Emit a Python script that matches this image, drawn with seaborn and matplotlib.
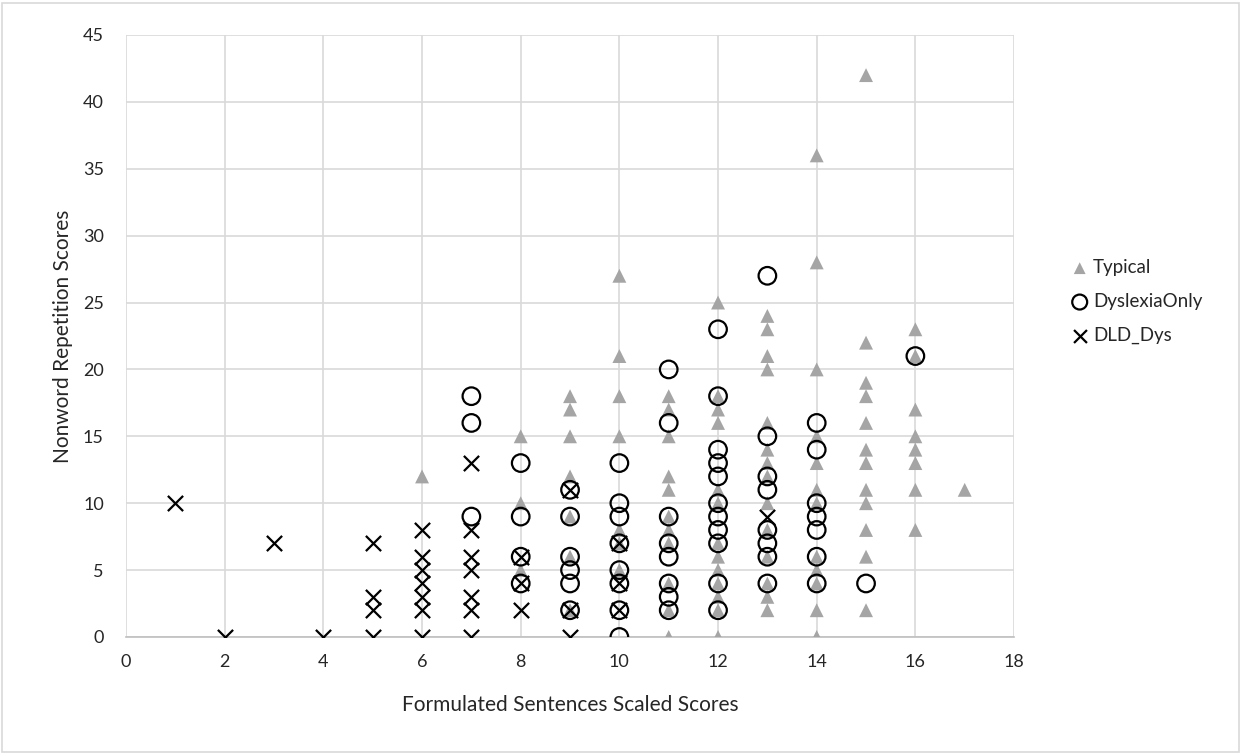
import pandas as pd
import seaborn as sns
import matplotlib.pyplot as plt
from matplotlib.patches import Rectangle

# Typical group: (formulated sentences, nonword repetition)
typical_x = [6,
             8, 8, 8,
             9, 9, 9, 9, 9, 9, 9,
             10, 10, 10, 10, 10, 10, 10,
             11, 11, 11, 11, 11, 11, 11, 11, 11, 11, 11,
             12, 12, 12, 12, 12, 12, 12, 12, 12, 12, 12, 12, 12,
             13, 13, 13, 13, 13, 13, 13, 13, 13, 13, 13, 13, 13, 13,
             14, 14, 14, 14, 14, 14, 14, 14, 14, 14, 14, 14,
             15, 15, 15, 15, 15, 15, 15, 15, 15, 15, 15, 15,
             16, 16, 16, 16, 16, 16, 16, 16,
             17]
typical_y = [12,
             15, 10, 5,
             18, 17, 15, 12, 9, 6, 2,
             27, 21, 18, 15, 8, 7, 5,
             18, 17, 15, 12, 11, 9, 8, 7, 4, 2, 0,
             25, 18, 17, 16, 11, 10, 7, 6, 5, 4, 3, 2, 0,
             24, 23, 21, 20, 16, 14, 13, 12, 10, 8, 6, 4, 3, 2,
             36, 28, 20, 15, 13, 11, 10, 6, 5, 4, 2, 0,
             42, 22, 19, 18, 16, 14, 13, 11, 10, 8, 6, 2,
             23, 21, 17, 15, 14, 13, 11, 8,
             11]

dys_x = [7, 7, 7,
         8, 8, 8, 8,
         9, 9, 9, 9, 9, 9,
         10, 10, 10, 10, 10, 10, 10, 10,
         11, 11, 11, 11, 11, 11, 11, 11,
         12, 12, 12, 12, 12, 12, 12, 12, 12, 12, 12,
         13, 13, 13, 13, 13, 13, 13, 13,
         14, 14, 14, 14, 14, 14, 14,
         15, 16]
dys_y = [18, 16, 9,
         13, 9, 6, 4,
         11, 9, 6, 5, 4, 2,
         13, 10, 9, 7, 5, 4, 2, 0,
         20, 16, 9, 7, 6, 4, 3, 2,
         23, 18, 14, 13, 12, 10, 9, 8, 7, 4, 2,
         27, 15, 12, 11, 8, 7, 6, 4,
         16, 14, 10, 9, 8, 6, 4,
         4, 21]

dld_x = [1, 2, 3, 4,
         5, 5, 5, 5,
         6, 6, 6, 6, 6, 6, 6,
         7, 7, 7, 7, 7, 7, 7,
         8, 8, 8,
         9, 9, 9,
         10, 10, 10,
         13]
dld_y = [10, 0, 7, 0,
         7, 3, 2, 0,
         8, 6, 5, 4, 3, 2, 0,
         13, 8, 6, 5, 3, 2, 0,
         6, 4, 2,
         11, 2, 0,
         7, 4, 2,
         9]

typical = pd.DataFrame({'fs': typical_x, 'nwr': typical_y})
dyslexia = pd.DataFrame({'fs': dys_x, 'nwr': dys_y})
dld = pd.DataFrame({'fs': dld_x, 'nwr': dld_y})

sns.set_style('white')
plt.rcParams['font.family'] = ['Lato', 'DejaVu Sans']

fig = plt.figure(figsize=(12.43, 7.54), dpi=100)
ax = fig.add_axes([0.1014, 0.1552, 0.7144, 0.7984])

sns.scatterplot(data=typical, x='fs', y='nwr', ax=ax, marker='^', s=100,
                color='#a5a5a5', edgecolor='none', label='Typical', zorder=3)
sns.scatterplot(data=dyslexia, x='fs', y='nwr', ax=ax, marker='o', s=160,
                facecolor='none', edgecolor='black', linewidth=1.6,
                label='DyslexiaOnly', zorder=4)
sns.scatterplot(data=dld, x='fs', y='nwr', ax=ax, marker='x', s=120,
                color='black', linewidth=1.6, label='DLD_Dys', zorder=5)

ax.set_xlim(0, 18)
ax.set_ylim(0, 45)
ax.set_xticks(range(0, 19, 2))
ax.set_yticks(range(0, 46, 5))
ax.grid(True, color='#d9d9d9', linewidth=1.2)
ax.set_axisbelow(True)
for side in ['top', 'right', 'left']:
    ax.spines[side].set_visible(False)
ax.spines['bottom'].set_color('#bfbfbf')
ax.spines['bottom'].set_linewidth(1.2)
ax.tick_params(axis='x', length=0, labelsize=13, colors='#262626', pad=12)
ax.tick_params(axis='y', length=0, labelsize=13, colors='#262626', pad=16)

ax.set_xlabel('Formulated Sentences Scaled Scores', fontsize=15, color='#262626', labelpad=18)
ax.set_ylabel('Nonword Repetition Scores', fontsize=15, color='#262626', labelpad=7)

ax.legend_.remove()
handles, labels = ax.get_legend_handles_labels()
fig.legend(handles, labels, loc='center left', bbox_to_anchor=(0.846, 0.60),
           frameon=False, fontsize=13.5, handletextpad=0.1, labelspacing=0.9,
           markerscale=0.85, handlelength=1.2, labelcolor='#262626')

fig.patches.append(Rectangle((0.002, 0.003), 0.995, 0.993, transform=fig.transFigure,
                             fill=False, edgecolor='#d9d9d9', linewidth=1.2))

fig.savefig('out.png', dpi=100)
